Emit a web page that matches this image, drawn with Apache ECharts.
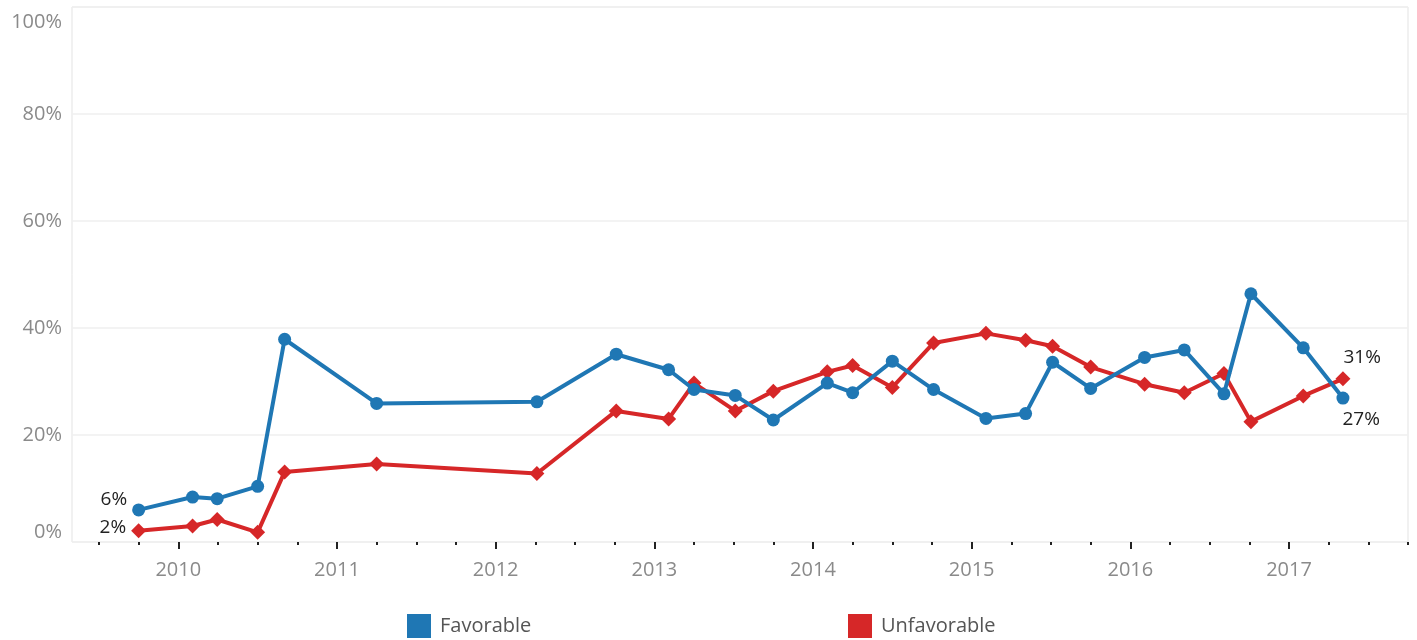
<!DOCTYPE html>
<html>
<head>
<meta charset="utf-8">
<script src="https://cdn.jsdelivr.net/npm/echarts@6/dist/echarts.min.js"></script>
<style>
  html, body { margin: 0; padding: 0; background: #ffffff; }
  #chart { width: 1417px; height: 640px; }
</style>
</head>
<body>
<div id="chart"></div>
<script>
// Survey dates as decimal years
const dates = [2009.75, 2010.09, 2010.245, 2010.50, 2010.67, 2011.25, 2012.26, 2012.76,
  2013.09, 2013.25, 2013.51, 2013.75, 2014.09, 2014.25, 2014.50, 2014.76,
  2015.09, 2015.34, 2015.51, 2015.75, 2016.09, 2016.34, 2016.59, 2016.76,
  2017.09, 2017.34];
// Favorable (%)
const favorable = [6.0, 8.4, 8.1, 10.4, 37.9, 25.9, 26.2, 35.1,
  32.2, 28.5, 27.4, 22.8, 29.7, 27.9, 33.8, 28.5,
  23.1, 24.0, 33.6, 28.7, 34.5, 35.9, 27.7, 46.4,
  36.3, 26.9];
// Unfavorable (%)
const unfavorable = [2.1, 3.0, 4.2, 1.8, 13.1, 14.6, 12.8, 24.5,
  23.0, 29.7, 24.5, 28.2, 31.8, 33.0, 28.9, 37.2,
  39.0, 37.7, 36.6, 32.7, 29.5, 27.9, 31.5, 22.5,
  27.3, 30.5];
// Axis ticks and labels
const yearTicks = [2010, 2011, 2012, 2013, 2014, 2015, 2016, 2017];
const quarterTicks = [2009.5, 2009.75, 2010.25, 2010.5, 2010.75, 2011.25, 2011.5, 2011.75,
  2012.25, 2012.5, 2012.75, 2013.25, 2013.5, 2013.75, 2014.25, 2014.5, 2014.75,
  2015.25, 2015.5, 2015.75, 2016.25, 2016.5, 2016.75, 2017.25, 2017.5, 2017.75];
const yTicks = [0, 20, 40, 60, 80, 100];
const xMin = 2009.33, xMax = 2017.75;

const FONT = '"Open Sans", "DejaVu Sans", sans-serif';
const BLUE = '#1f77b4', RED = '#d62728';
const AXIS_GREY = '#8a8a8a';

function buildData(values, firstOffset, lastOffset) {
  const n = values.length;
  return values.map((v, i) => {
    const item = { value: [dates[i], v] };
    if (i === 0) {
      item.label = { show: true, position: 'left', offset: firstOffset };
    } else if (i === n - 1) {
      item.label = { show: true, position: 'right', offset: lastOffset };
    }
    return item;
  });
}

const labelStyle = {
  show: false,
  fontFamily: FONT,
  fontSize: 19,
  color: '#222222',
  formatter: p => Math.round(p.value[1]) + '%'
};

const chart = echarts.init(document.getElementById('chart'), null, { renderer: 'canvas' });
chart.setOption({
  animation: false,
  backgroundColor: '#ffffff',
  grid: {
    left: 72, right: 9, top: 7, bottom: 98,
    show: true, borderColor: '#e3e3e3', borderWidth: 1, backgroundColor: 'transparent'
  },
  legend: [
    {
      data: ['Favorable'], left: 407, top: 614, icon: 'rect', padding: 0,
      itemWidth: 24, itemHeight: 24,
      textStyle: { fontFamily: FONT, fontSize: 20, color: '#555555', padding: [3, 0, 0, 4] }
    },
    {
      data: ['Unfavorable'], left: 848, top: 614, icon: 'rect', padding: 0,
      itemWidth: 24, itemHeight: 24,
      textStyle: { fontFamily: FONT, fontSize: 20, color: '#555555', padding: [3, 0, 0, 4] }
    }
  ],
  xAxis: [
    {
      type: 'value', min: xMin, max: xMax, position: 'bottom',
      axisLine: { show: false },
      splitLine: { show: false },
      axisLabel: { show: false },
      axisTick: {
        show: true, length: 3, lineStyle: { color: '#222', width: 2 },
        customValues: quarterTicks
      }
    },
    {
      type: 'value', min: xMin, max: xMax, position: 'bottom',
      axisLine: { show: false },
      splitLine: { show: false },
      axisTick: {
        show: true, length: 7, lineStyle: { color: '#222', width: 2 },
        customValues: yearTicks
      },
      axisLabel: {
        show: true, customValues: yearTicks, margin: 18,
        fontFamily: FONT, fontSize: 20, color: AXIS_GREY,
        formatter: v => String(Math.round(v))
      }
    }
  ],
  yAxis: {
    type: 'value', min: 0, max: 100, interval: 20,
    axisLine: { show: false },
    axisTick: { show: false },
    splitLine: { show: true, lineStyle: { color: '#efefef', width: 1.5 } },
    axisLabel: {
      margin: 10, fontFamily: FONT, fontSize: 20, color: AXIS_GREY,
      formatter: v => (v === 100 ? '{t|' + v + '%}' : v + '%'),
      rich: {
        t: { fontFamily: FONT, fontSize: 20, color: AXIS_GREY, padding: [5, 0, 0, 0] }
      },
      customValues: yTicks,
      verticalAlignMinLabel: 'bottom',
      verticalAlignMaxLabel: 'top'
    }
  },
  series: [
    {
      name: 'Favorable', type: 'line', xAxisIndex: 0,
      data: buildData(favorable, [0, -10], [-12, 22]),
      symbol: 'circle', symbolSize: 13,
      lineStyle: { color: BLUE, width: 4 },
      itemStyle: { color: BLUE },
      label: labelStyle,
      z: 3
    },
    {
      name: 'Unfavorable', type: 'line', xAxisIndex: 0,
      data: buildData(unfavorable, [0, -3], [-12, -21]),
      symbol: 'diamond', symbolSize: 15,
      lineStyle: { color: RED, width: 4 },
      itemStyle: { color: RED },
      label: labelStyle,
      z: 2
    }
  ]
});
</script>
</body>
</html>
